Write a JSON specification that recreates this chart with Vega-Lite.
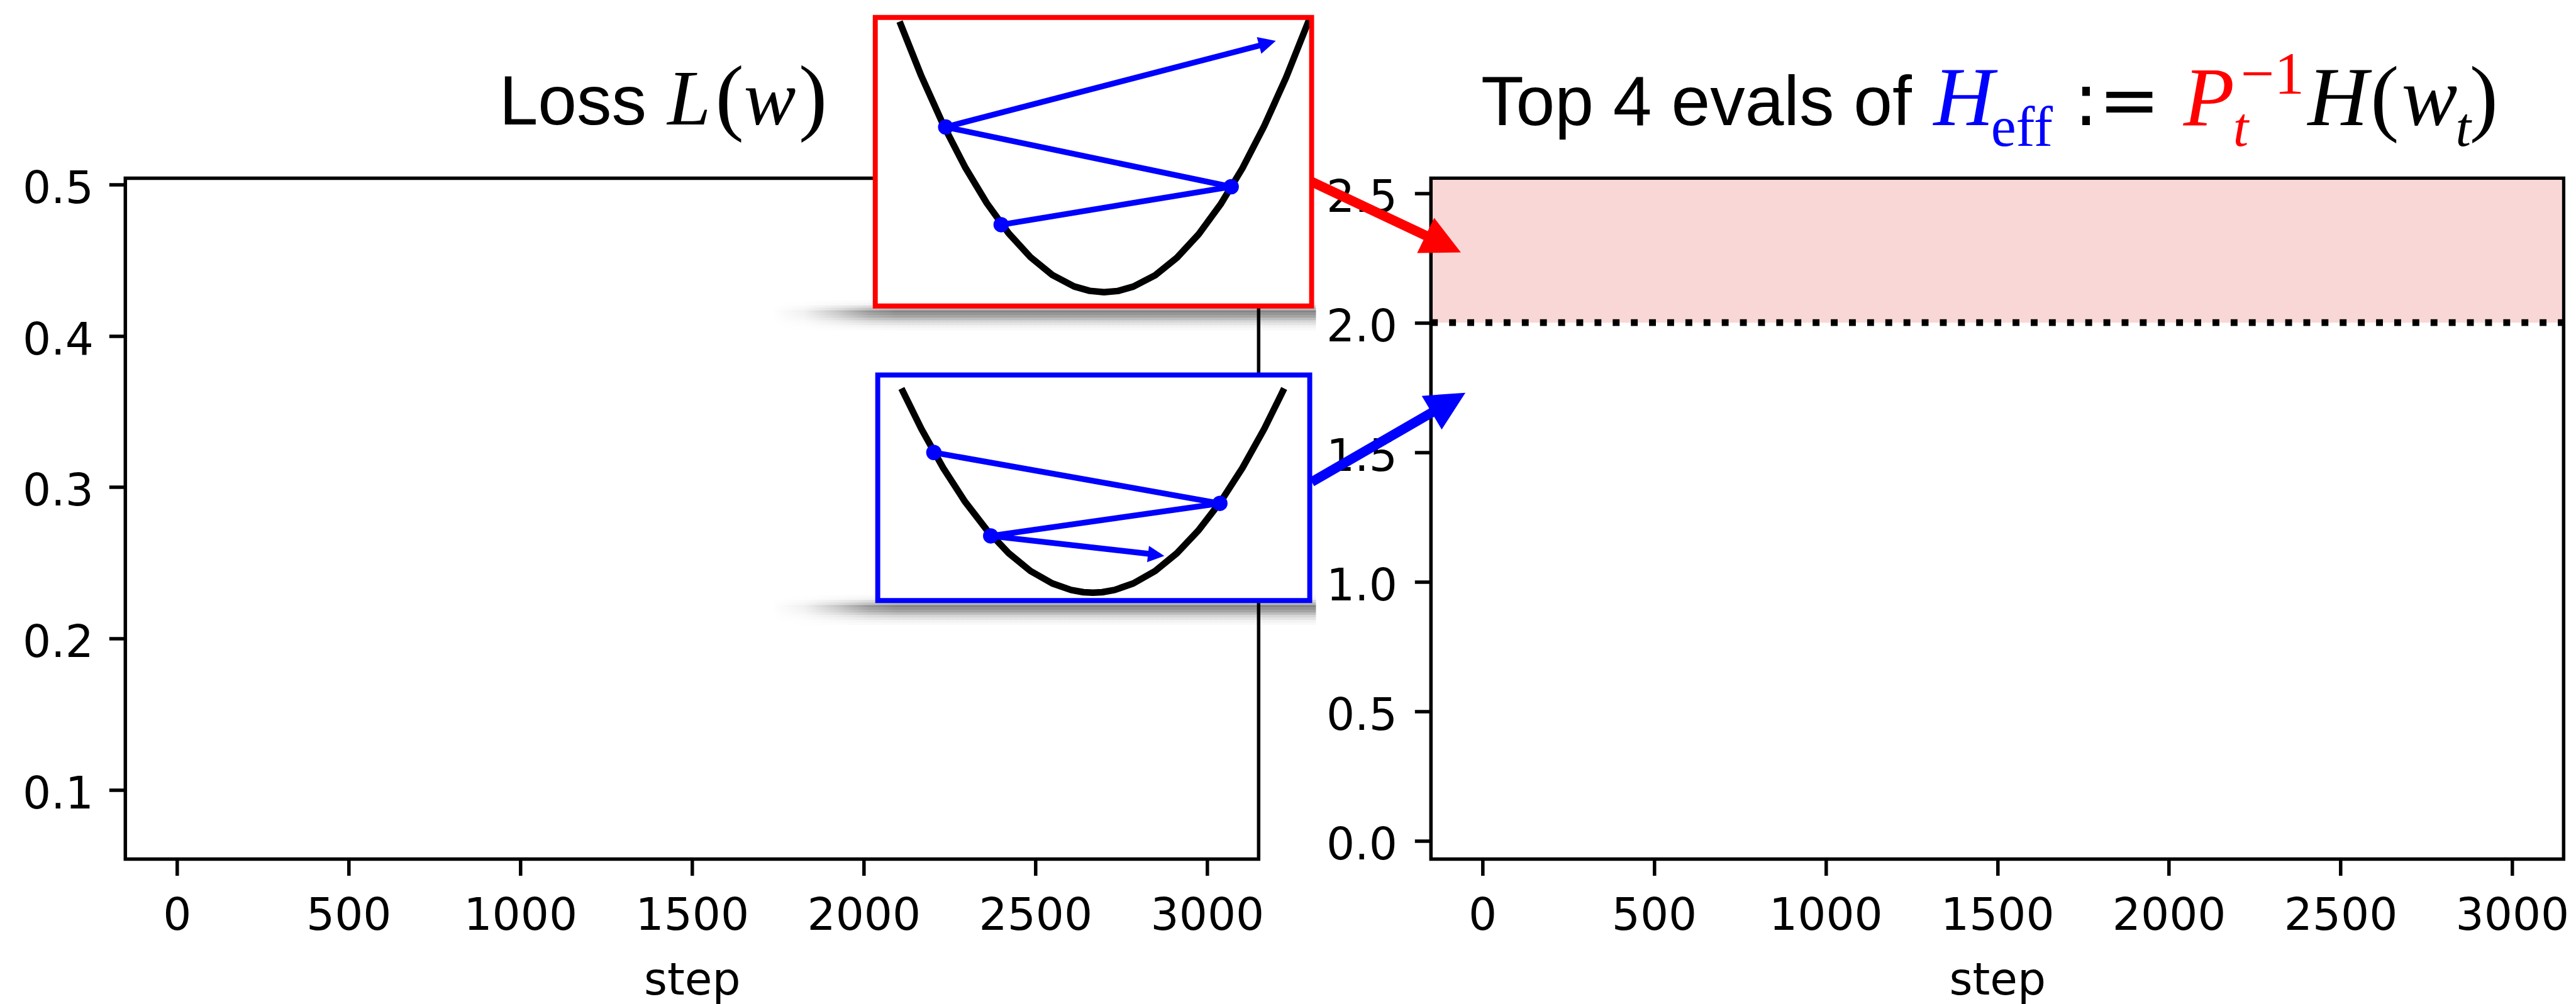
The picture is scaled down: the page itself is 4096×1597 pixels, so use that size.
{
  "$schema": "https://vega.github.io/schema/vega-lite/v6.json",
  "autosize": {"type": "pad"},
  "padding": {"left": 32.3, "top": 20.5, "right": 0, "bottom": 0},
  "background": "white",
  "bounds": "flush",
  "spacing": 274,
  "config": {
    "view": {"stroke": "black", "strokeWidth": 5.5},
    "axis": {"domain": false, "grid": false, "tickColor": "black", "tickWidth": 5.5, "tickSize": 26, "labelFont": "DejaVu Sans", "labelFontSize": 71, "labelColor": "black", "labelFlush": false, "labelOverlap": false, "labelLimit": 0, "titleFont": "DejaVu Sans", "titleFontSize": 71, "titleFontWeight": "normal", "titleColor": "black"},
    "axisX": {"labelPadding": 30, "titlePadding": 33},
    "axisY": {"labelOffset": 8}
  },
  "datasets": {
    "shadow": [
      {"box": "red", "d": -20, "x": 1732.3, "x2": 3317.0, "y": 0.42509, "y2": 0.42344},
      {"box": "red", "d": -16, "x": 1732.3, "x2": 3317.0, "y": 0.42344, "y2": 0.42179},
      {"box": "red", "d": -12, "x": 1732.3, "x2": 3317.0, "y": 0.42179, "y2": 0.42015},
      {"box": "red", "d": -8, "x": 1732.3, "x2": 3317.0, "y": 0.42015, "y2": 0.41850},
      {"box": "red", "d": -4, "x": 1732.3, "x2": 3317.0, "y": 0.41850, "y2": 0.41686},
      {"box": "red", "d": 0, "x": 1732.3, "x2": 3317.0, "y": 0.41686, "y2": 0.41521},
      {"box": "red", "d": 4, "x": 1732.3, "x2": 3317.0, "y": 0.41521, "y2": 0.41356},
      {"box": "red", "d": 8, "x": 1732.3, "x2": 3317.0, "y": 0.41356, "y2": 0.41192},
      {"box": "red", "d": 12, "x": 1732.3, "x2": 3317.0, "y": 0.41192, "y2": 0.41027},
      {"box": "red", "d": 16, "x": 1732.3, "x2": 3317.0, "y": 0.41027, "y2": 0.40863},
      {"box": "red", "d": 20, "x": 1732.3, "x2": 3317.0, "y": 0.40863, "y2": 0.40698},
      {"box": "red", "d": 24, "x": 1732.3, "x2": 3317.0, "y": 0.40698, "y2": 0.40533},
      {"box": "red", "d": 28, "x": 1732.3, "x2": 3317.0, "y": 0.40533, "y2": 0.40369},
      {"box": "red", "d": 32, "x": 1732.3, "x2": 3317.0, "y": 0.40369, "y2": 0.40204},
      {"box": "blue", "d": -20, "x": 1732.3, "x2": 3317.0, "y": 0.23043, "y2": 0.22878},
      {"box": "blue", "d": -16, "x": 1732.3, "x2": 3317.0, "y": 0.22878, "y2": 0.22714},
      {"box": "blue", "d": -12, "x": 1732.3, "x2": 3317.0, "y": 0.22714, "y2": 0.22549},
      {"box": "blue", "d": -8, "x": 1732.3, "x2": 3317.0, "y": 0.22549, "y2": 0.22385},
      {"box": "blue", "d": -4, "x": 1732.3, "x2": 3317.0, "y": 0.22385, "y2": 0.22220},
      {"box": "blue", "d": 0, "x": 1732.3, "x2": 3317.0, "y": 0.22220, "y2": 0.22055},
      {"box": "blue", "d": 4, "x": 1732.3, "x2": 3317.0, "y": 0.22055, "y2": 0.21891},
      {"box": "blue", "d": 8, "x": 1732.3, "x2": 3317.0, "y": 0.21891, "y2": 0.21726},
      {"box": "blue", "d": 12, "x": 1732.3, "x2": 3317.0, "y": 0.21726, "y2": 0.21562},
      {"box": "blue", "d": 16, "x": 1732.3, "x2": 3317.0, "y": 0.21562, "y2": 0.21397},
      {"box": "blue", "d": 20, "x": 1732.3, "x2": 3317.0, "y": 0.21397, "y2": 0.21233},
      {"box": "blue", "d": 24, "x": 1732.3, "x2": 3317.0, "y": 0.21233, "y2": 0.21068},
      {"box": "blue", "d": 28, "x": 1732.3, "x2": 3317.0, "y": 0.21068, "y2": 0.20904},
      {"box": "blue", "d": 32, "x": 1732.3, "x2": 3317.0, "y": 0.20904, "y2": 0.20739}
    ],
    "boxes": [
      {"box": "red", "x": 2033.7, "x2": 3304.3, "y": 0.6103, "y2": 0.4197},
      {"box": "blue", "x": 2040.9, "x2": 3298.8, "y": 0.3741, "y2": 0.2251}
    ],
    "parab": [
      {"box": "red", "x": 2104.5, "y": 0.6076}, {"box": "red", "x": 2168.0, "y": 0.5715}, {"box": "red", "x": 2231.5, "y": 0.5395},
      {"box": "red", "x": 2295.1, "y": 0.5115}, {"box": "red", "x": 2358.6, "y": 0.4876}, {"box": "red", "x": 2422.1, "y": 0.4677},
      {"box": "red", "x": 2485.6, "y": 0.4520}, {"box": "red", "x": 2549.2, "y": 0.4402}, {"box": "red", "x": 2612.7, "y": 0.4326},
      {"box": "red", "x": 2658.1, "y": 0.4297}, {"box": "red", "x": 2699.8, "y": 0.4288}, {"box": "red", "x": 2739.8, "y": 0.4296},
      {"box": "red", "x": 2785.1, "y": 0.4325}, {"box": "red", "x": 2848.7, "y": 0.4400}, {"box": "red", "x": 2912.2, "y": 0.4516},
      {"box": "red", "x": 2975.7, "y": 0.4672}, {"box": "red", "x": 3039.3, "y": 0.4869}, {"box": "red", "x": 3102.8, "y": 0.5107},
      {"box": "red", "x": 3166.3, "y": 0.5386}, {"box": "red", "x": 3229.9, "y": 0.5706}, {"box": "red", "x": 3297.0, "y": 0.6088},
      {"box": "blue", "x": 2109.9, "y": 0.3652}, {"box": "blue", "x": 2168.0, "y": 0.3385}, {"box": "blue", "x": 2231.5, "y": 0.3127},
      {"box": "blue", "x": 2295.1, "y": 0.2904}, {"box": "blue", "x": 2358.6, "y": 0.2717}, {"box": "blue", "x": 2422.1, "y": 0.2564},
      {"box": "blue", "x": 2485.6, "y": 0.2446}, {"box": "blue", "x": 2549.2, "y": 0.2364}, {"box": "blue", "x": 2603.6, "y": 0.2321},
      {"box": "blue", "x": 2639.9, "y": 0.2306}, {"box": "blue", "x": 2667.2, "y": 0.2303}, {"box": "blue", "x": 2694.4, "y": 0.2306},
      {"box": "blue", "x": 2730.7, "y": 0.2321}, {"box": "blue", "x": 2785.1, "y": 0.2364}, {"box": "blue", "x": 2848.7, "y": 0.2446},
      {"box": "blue", "x": 2912.2, "y": 0.2564}, {"box": "blue", "x": 2975.7, "y": 0.2717}, {"box": "blue", "x": 3039.3, "y": 0.2904},
      {"box": "blue", "x": 3102.8, "y": 0.3127}, {"box": "blue", "x": 3166.3, "y": 0.3385}, {"box": "blue", "x": 3224.4, "y": 0.3652}
    ],
    "segs": [
      {"x": 2400.3, "y": 0.4734, "x2": 3070.1, "y2": 0.4985},
      {"x": 3070.1, "y": 0.4985, "x2": 2238.8, "y2": 0.5379},
      {"x": 2238.8, "y": 0.5379, "x2": 3160.0, "y2": 0.5922},
      {"x": 2204.3, "y": 0.3229, "x2": 3037.1, "y2": 0.2893},
      {"x": 3037.1, "y": 0.2893, "x2": 2369.9, "y2": 0.2678},
      {"x": 2369.9, "y": 0.2678, "x2": 2838.1, "y2": 0.2558}
    ],
    "dots": [
      {"x": 2238.8, "y": 0.5379}, {"x": 3070.1, "y": 0.4985}, {"x": 2400.3, "y": 0.4734},
      {"x": 2204.3, "y": 0.3229}, {"x": 3037.1, "y": 0.2893}, {"x": 2369.9, "y": 0.2678}
    ],
    "bigarrows": [
      {"box": "red", "x": -498.7, "y": 2.5443, "x2": -152.4, "y2": 2.3277},
      {"box": "blue", "x": -497.4, "y": 1.3853, "x2": -136.9, "y2": 1.6612}
    ],
    "titles": [
      {"g": "Lsans", "t": "Loss", "x": 938.4, "y": 0.5395},
      {"g": "Lmath", "t": "L", "x": 1491.8, "y": 0.5395},
      {"g": "Lmath", "t": "w", "x": 1726.9, "y": 0.5395},
      {"g": "Lparen", "t": "(", "x": 1609.8, "y": 0.5395},
      {"g": "Lparen", "t": ")", "x": 1852.1, "y": 0.5395},
      {"g": "Rsans", "t": "Top 4 evals of", "x": -3.8, "y": 2.7611},
      {"g": "Rblue", "t": "H", "x": 1402.3, "y": 2.7611},
      {"g": "Rbluesub", "t": "eff", "x": 1571.4, "y": 2.6807},
      {"g": "Rdef", "t": ":=", "x": 1848.5, "y": 2.7611},
      {"g": "Rred", "t": "P", "x": 2116.6, "y": 2.7611},
      {"g": "Rredsub", "t": "t", "x": 2209.2, "y": 2.6807},
      {"g": "Rredsup", "t": "−1", "x": 2301.8, "y": 2.8828},
      {"g": "Rmath", "t": "H", "x": 2492.5, "y": 2.7611},
      {"g": "Rmath", "t": "w", "x": 2759.5, "y": 2.7611},
      {"g": "Rsub", "t": "t", "x": 2857.6, "y": 2.6807},
      {"g": "Rparen", "t": "(", "x": 2628.8, "y": 2.7611},
      {"g": "Rparen", "t": ")", "x": 2917.5, "y": 2.7611}
    ]
  },
  "hconcat": [
    {
      "width": 1802,
      "height": 1083,
      "encoding": {
        "x": {"field": "x", "type": "quantitative", "scale": {"domain": [-150, 3150], "nice": false, "zero": false}, "axis": {"values": [0, 500, 1000, 1500, 2000, 2500, 3000], "format": "d", "title": "step"}},
        "y": {"field": "y", "type": "quantitative", "scale": {"domain": [0.0543, 0.5041], "nice": false, "zero": false}, "axis": {"values": [0.1, 0.2, 0.3, 0.4, 0.5], "format": ".1f", "title": null, "labelPadding": 25}}
      },
      "layer": [
        {
          "data": {"name": "shadow"},
          "mark": {"type": "rect", "strokeWidth": 0, "fill": {"gradient": "linear", "x1": 0, "y1": 0, "x2": 1, "y2": 0, "stops": [
            {"offset": 0, "color": "rgba(0,0,0,0)"},
            {"offset": 0.06, "color": "rgba(0,0,0,0.12)"},
            {"offset": 0.12, "color": "rgba(0,0,0,0.45)"},
            {"offset": 0.18, "color": "rgba(0,0,0,0.85)"},
            {"offset": 0.23, "color": "rgba(0,0,0,1)"},
            {"offset": 1, "color": "rgba(0,0,0,1)"}]}},
          "encoding": {
            "x2": {"field": "x2"}, "y2": {"field": "y2"},
            "opacity": {"field": "d", "type": "quantitative", "scale": {"domain": [-20, -12, -4, 0, 8, 16, 24, 32], "range": [0, 0.05, 0.28, 0.48, 0.36, 0.16, 0.05, 0]}, "legend": null}
          }
        },
        {
          "data": {"name": "boxes"},
          "mark": {"type": "rect", "fill": "white", "strokeWidth": 0},
          "encoding": {"x2": {"field": "x2"}, "y2": {"field": "y2"}}
        },
        {
          "data": {"name": "parab"},
          "mark": {"type": "line", "color": "black", "strokeWidth": 10.5, "strokeJoin": "round"},
          "encoding": {"detail": {"field": "box"}}
        },
        {
          "data": {"name": "segs"},
          "mark": {"type": "rule", "color": "#0000ff", "strokeWidth": 9.2},
          "encoding": {"x2": {"field": "x2"}, "y2": {"field": "y2"}}
        },
        {
          "data": {"name": "dots"},
          "mark": {"type": "point", "shape": "circle", "filled": true, "color": "#0000ff", "opacity": 1, "size": 600}
        },
        {
          "data": {"values": [{"x": 3200.1, "y": 0.5948}]},
          "mark": {"type": "point", "shape": "M0,0L-2,-1L-2,1Z", "filled": true, "color": "#0000ff", "opacity": 1, "size": 760, "angle": -15}
        },
        {
          "data": {"values": [{"x": 2875.4, "y": 0.2546}]},
          "mark": {"type": "point", "shape": "M0,0L-2,-1L-2,1Z", "filled": true, "color": "#0000ff", "opacity": 1, "size": 680, "angle": 6.5}
        },
        {
          "data": {"name": "boxes"},
          "mark": {"type": "rect", "filled": false, "strokeWidth": 7.9},
          "encoding": {
            "x2": {"field": "x2"}, "y2": {"field": "y2"},
            "color": {"field": "box", "type": "nominal", "scale": {"domain": ["red", "blue"], "range": ["#ff0000", "#0000ff"]}, "legend": null}
          }
        },
        {
          "data": {"name": "titles"},
          "transform": [{"filter": "datum.g === 'Lsans'"}],
          "mark": {"type": "text", "font": "Liberation Sans", "fontSize": 111, "color": "black", "align": "left", "baseline": "alphabetic"},
          "encoding": {"text": {"field": "t"}}
        },
        {
          "data": {"name": "titles"},
          "transform": [{"filter": "datum.g === 'Lmath'"}],
          "mark": {"type": "text", "font": "Liberation Serif", "fontStyle": "italic", "fontSize": 124, "color": "black", "align": "center", "baseline": "alphabetic"},
          "encoding": {"text": {"field": "t"}}
        },
        {
          "data": {"name": "titles"},
          "transform": [{"filter": "datum.g === 'Lparen'"}],
          "mark": {"type": "text", "font": "Liberation Serif", "fontSize": 136, "color": "black", "align": "center", "baseline": "alphabetic"},
          "encoding": {"text": {"field": "t"}}
        }
      ]
    },
    {
      "width": 1801,
      "height": 1083,
      "encoding": {
        "x": {"field": "x", "type": "quantitative", "scale": {"domain": [-150, 3150], "nice": false, "zero": false}, "axis": {"values": [0, 500, 1000, 1500, 2000, 2500, 3000], "format": "d", "title": "step"}},
        "y": {"field": "y", "type": "quantitative", "scale": {"domain": [-0.0696, 2.557], "nice": false, "zero": false}, "axis": {"values": [0, 0.5, 1, 1.5, 2, 2.5], "format": ".1f", "title": null, "labelPadding": 28}}
      },
      "layer": [
        {
          "data": {"values": [{"x": -145, "x2": 3145, "y": 2.0, "y2": 2.5503}]},
          "mark": {"type": "rect", "color": "#f9d7d6", "strokeWidth": 0},
          "encoding": {"x2": {"field": "x2"}, "y2": {"field": "y2"}}
        },
        {
          "data": {"values": [{"x": -150, "x2": 3150, "y": 2.0}]},
          "mark": {"type": "rule", "color": "black", "strokeWidth": 10.9, "strokeDash": [10.9, 18]},
          "encoding": {"x2": {"field": "x2"}}
        },
        {
          "data": {"name": "titles"},
          "transform": [{"filter": "datum.g === 'Rsans'"}],
          "mark": {"type": "text", "font": "Liberation Sans", "fontSize": 111, "color": "black", "align": "left", "baseline": "alphabetic"},
          "encoding": {"text": {"field": "t"}}
        },
        {
          "data": {"name": "titles"},
          "transform": [{"filter": "datum.g === 'Rblue'"}],
          "mark": {"type": "text", "font": "Liberation Serif", "fontStyle": "italic", "fontSize": 133, "color": "#0000ff", "align": "center", "baseline": "alphabetic"},
          "encoding": {"text": {"field": "t"}}
        },
        {
          "data": {"name": "titles"},
          "transform": [{"filter": "datum.g === 'Rbluesub'"}],
          "mark": {"type": "text", "font": "Liberation Serif", "fontSize": 90, "color": "#0000ff", "align": "center", "baseline": "alphabetic"},
          "encoding": {"text": {"field": "t"}}
        },
        {
          "data": {"name": "titles"},
          "transform": [{"filter": "datum.g === 'Rdef'"}],
          "mark": {"type": "text", "font": "DejaVu Sans", "fontSize": 117, "color": "black", "align": "center", "baseline": "alphabetic"},
          "encoding": {"text": {"field": "t"}}
        },
        {
          "data": {"name": "titles"},
          "transform": [{"filter": "datum.g === 'Rred'"}],
          "mark": {"type": "text", "font": "Liberation Serif", "fontStyle": "italic", "fontSize": 133, "color": "#ff0000", "align": "center", "baseline": "alphabetic"},
          "encoding": {"text": {"field": "t"}}
        },
        {
          "data": {"name": "titles"},
          "transform": [{"filter": "datum.g === 'Rredsub'"}],
          "mark": {"type": "text", "font": "Liberation Serif", "fontStyle": "italic", "fontSize": 88, "color": "#ff0000", "align": "center", "baseline": "alphabetic"},
          "encoding": {"text": {"field": "t"}}
        },
        {
          "data": {"name": "titles"},
          "transform": [{"filter": "datum.g === 'Rredsup'"}],
          "mark": {"type": "text", "font": "Liberation Serif", "fontSize": 95, "color": "#ff0000", "align": "center", "baseline": "alphabetic"},
          "encoding": {"text": {"field": "t"}}
        },
        {
          "data": {"name": "titles"},
          "transform": [{"filter": "datum.g === 'Rmath'"}],
          "mark": {"type": "text", "font": "Liberation Serif", "fontStyle": "italic", "fontSize": 133, "color": "black", "align": "center", "baseline": "alphabetic"},
          "encoding": {"text": {"field": "t"}}
        },
        {
          "data": {"name": "titles"},
          "transform": [{"filter": "datum.g === 'Rsub'"}],
          "mark": {"type": "text", "font": "Liberation Serif", "fontStyle": "italic", "fontSize": 88, "color": "black", "align": "center", "baseline": "alphabetic"},
          "encoding": {"text": {"field": "t"}}
        },
        {
          "data": {"name": "titles"},
          "transform": [{"filter": "datum.g === 'Rparen'"}],
          "mark": {"type": "text", "font": "Liberation Serif", "fontSize": 136, "color": "black", "align": "center", "baseline": "alphabetic"},
          "encoding": {"text": {"field": "t"}}
        },
        {
          "data": {"name": "bigarrows"},
          "mark": {"type": "rule", "strokeWidth": 15.5},
          "encoding": {
            "x2": {"field": "x2"}, "y2": {"field": "y2"},
            "color": {"field": "box", "type": "nominal", "scale": {"domain": ["red", "blue"], "range": ["#ff0000", "#0000ff"]}, "legend": null}
          }
        },
        {
          "data": {"values": [{"x": -62.8, "y": 2.2706}]},
          "mark": {"type": "point", "shape": "M0,0L-2,-1L-2,1Z", "filled": true, "color": "#ff0000", "opacity": 1, "size": 3869, "angle": 25.8}
        },
        {
          "data": {"values": [{"x": -49.6, "y": 1.7294}]},
          "mark": {"type": "point", "shape": "M0,0L-2,-1L-2,1Z", "filled": true, "color": "#0000ff", "opacity": 1, "size": 3869, "angle": -30.6}
        }
      ]
    }
  ]
}
